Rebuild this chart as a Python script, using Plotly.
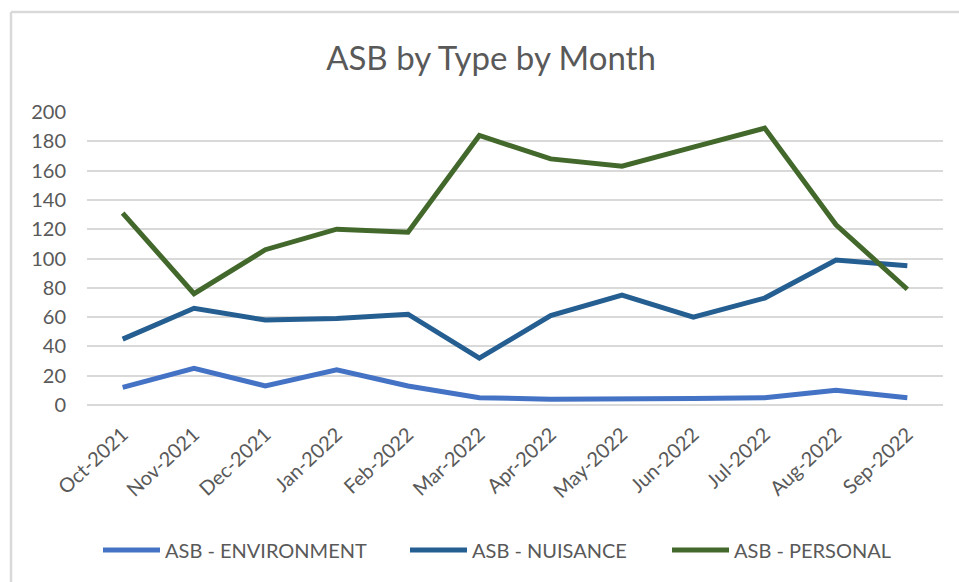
import plotly.graph_objects as go

months = ["Oct-2021", "Nov-2021", "Dec-2021", "Jan-2022", "Feb-2022", "Mar-2022",
          "Apr-2022", "May-2022", "Jun-2022", "Jul-2022", "Aug-2022", "Sep-2022"]
environment = [12, 25, 13, 24, 13, 5, 4, 4, 4.5, 5, 10, 5]
nuisance = [45, 66, 58, 59, 62, 32, 61, 75, 60, 73, 99, 95]
personal = [131, 76, 106, 120, 118, 184, 168, 163, 176, 189, 123, 79]

series = [
    ("ASB - ENVIRONMENT", environment, "#4472C4", "legend"),
    ("ASB - NUISANCE", nuisance, "#255E91", "legend2"),
    ("ASB - PERSONAL", personal, "#43682B", "legend3"),
]

fig = go.Figure()
for name, vals, col, lg in series:
    fig.add_trace(go.Scatter(x=months, y=vals, name=name, mode="lines",
                             line=dict(color=col, width=5), legend=lg))

FONT = "Lato, Calibri, sans-serif"
W, H = 959, 582
L, R, T, B = 87, 16, 112, 177
PW, PH = W - L - R, H - T - B
LEG_Y = -0.495


def leg(page_x):
    return dict(orientation="h", x=(page_x - L) / PW, xanchor="left",
                y=LEG_Y, yanchor="middle", bgcolor="rgba(0,0,0,0)",
                font=dict(family=FONT, size=20, color="#595959"),
                itemwidth=57)


fig.update_layout(
    width=W, height=H,
    margin=dict(l=L, r=R, t=T, b=B, pad=0),
    paper_bgcolor="white", plot_bgcolor="white",
    title=dict(text="ASB by Type by Month", x=(491 - L) / PW, xanchor="center",
               xref="paper", y=1 - 58 / H, yanchor="middle",
               font=dict(family=FONT, size=33, color="#595959")),
    font=dict(family=FONT, color="#595959"),
    showlegend=True,
    legend=leg(98),
    legend2=leg(405),
    legend3=leg(667),
    xaxis=dict(type="category", tickangle=-43, showgrid=False, showline=False,
               ticks="", tickfont=dict(size=20, color="#595959"),
               range=[-0.5, 11.5], ticklabelstandoff=13),
    yaxis=dict(range=[0, 200], dtick=20, showgrid=True, gridcolor="#D9D9D9",
               gridwidth=1.5, zeroline=True, zerolinecolor="#D9D9D9", zerolinewidth=1.5,
               showline=False, ticks="", tickfont=dict(size=20, color="#595959"),
               ticklabelstandoff=20),
    shapes=[
        dict(type="line", xref="paper", yref="paper",
             x0=(11 - L) / PW, x1=(W + 5 - L) / PW,
             y0=(T + PH - 12) / PH, y1=(T + PH - 12) / PH,
             line=dict(color="#D9D9D9", width=2.5)),
        dict(type="line", xref="paper", yref="paper",
             x0=(11 - L) / PW, x1=(11 - L) / PW,
             y0=(T + PH - 12) / PH, y1=-(B + 5) / PH,
             line=dict(color="#D9D9D9", width=2.5)),
    ],
)

fig.write_html("out.html", config={"displayModeBar": False},
               post_script="document.body.style.margin='0';document.body.style.overflow='hidden';")
